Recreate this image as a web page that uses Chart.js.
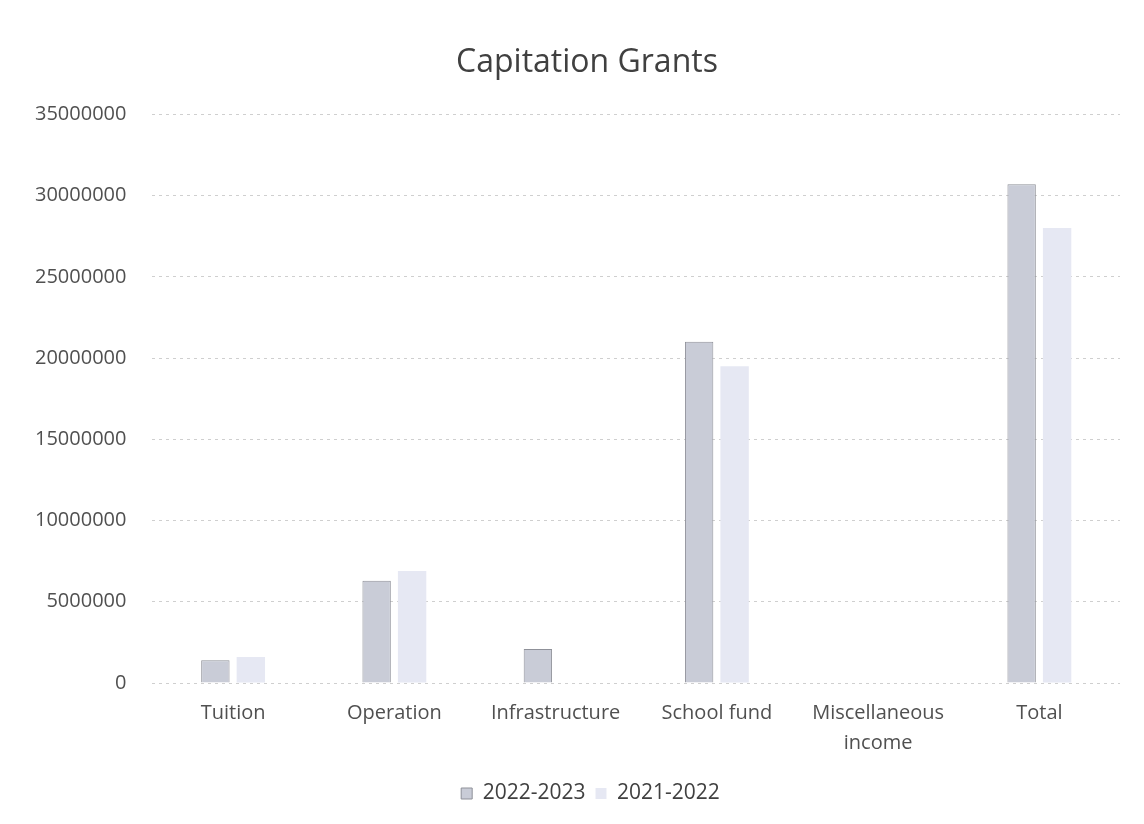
<!DOCTYPE html>
<html>
<head>
<meta charset="utf-8">
<script src="https://cdn.jsdelivr.net/npm/chart.js@4"></script>
<style>
  html, body { margin: 0; padding: 0; background: #ffffff; }
  #wrap { width: 1144px; height: 824px; position: relative; }
</style>
</head>
<body>
<div id="wrap"><canvas id="c" width="1144" height="824"></canvas></div>
<script>
const categories = ["Tuition", "Operation", "Infrastructure", "School fund", ["Miscellaneous", "income"], "Total"];
const series2022 = [1400000, 6300000, 2100000, 21000000, 0, 30700000];
const series2021 = [1600000, 6900000, 0, 19500000, 0, 28000000];
const seriesNames = ["2022-2023", "2021-2022"];
const yTicks = [0, 5000000, 10000000, 15000000, 20000000, 25000000, 30000000, 35000000];

const FONT = "'Open Sans', 'Noto Sans', sans-serif";

// shift the title and legend blocks slightly right, as in the reference
const shiftBlocks = {
  id: 'shiftBlocks',
  afterLayout(chart) {
    if (chart.titleBlock) { chart.titleBlock.left += 45; }
    if (chart.legend) { chart.legend.left += 52; }
  }
};

new Chart(document.getElementById('c'), {
  type: 'bar',
  data: {
    labels: categories,
    datasets: [
      {
        label: seriesNames[0],
        data: series2022,
        backgroundColor: '#c9ccd7',
        borderColor: '#8f9199',
        borderWidth: 1,
        categoryPercentage: 0.44,
        barPercentage: 0.8
      },
      {
        label: seriesNames[1],
        data: series2021,
        backgroundColor: '#e6e8f3',
        borderColor: '#e6e8f3',
        borderWidth: 0,
        categoryPercentage: 0.44,
        barPercentage: 0.8
      }
    ]
  },
  plugins: [shiftBlocks],
  options: {
    responsive: false,
    animation: false,
    layout: { padding: { left: 9, right: 24, top: 44, bottom: 10 } },
    plugins: {
      title: {
        display: true,
        text: 'Capitation Grants',
        color: '#404040',
        font: { family: FONT, size: 32, weight: 'normal' },
        padding: { top: 0, bottom: 32 }
      },
      legend: {
        position: 'bottom',
        labels: {
          color: '#404040',
          font: { family: FONT, size: 21 },
          boxWidth: 11,
          boxHeight: 11,
          padding: 10
        }
      },
      tooltip: { enabled: false }
    },
    scales: {
      x: {
        grid: { display: false, drawTicks: false },
        border: { display: false },
        ticks: {
          color: '#505050',
          font: { family: FONT, size: 20, lineHeight: 1.5 },
          padding: 15,
          maxRotation: 0,
          autoSkip: false
        }
      },
      y: {
        min: 0,
        max: 35000000,
        afterBuildTicks: (axis) => { axis.ticks = yTicks.map(v => ({ value: v })); },
        grid: {
          color: '#cfcfcf',
          lineWidth: 1,
          drawTicks: false
        },
        border: { display: false, dash: [3, 4] },
        ticks: {
          color: '#505050',
          font: { family: FONT, size: 20 },
          padding: 26,
          callback: (v) => String(v)
        }
      }
    }
  }
});
</script>
</body>
</html>
